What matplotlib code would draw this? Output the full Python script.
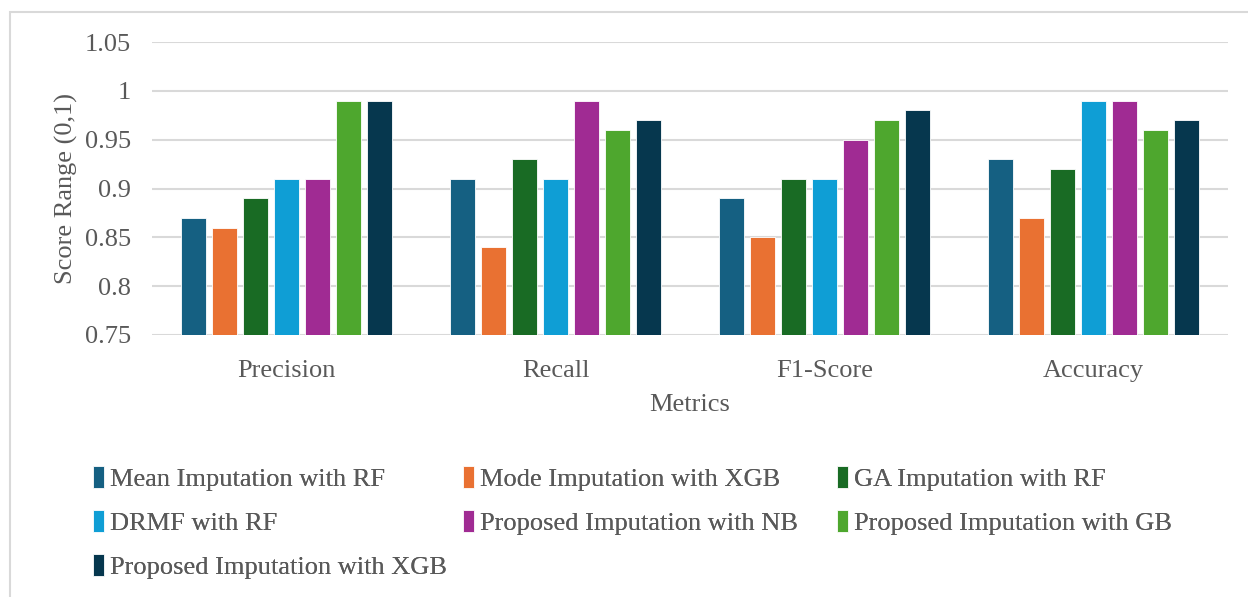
import numpy as np
import matplotlib.pyplot as plt
from matplotlib.patches import Rectangle

plt.rcParams['font.family'] = ['Liberation Serif', 'DejaVu Serif']

metrics = ['Precision', 'Recall', 'F1-Score', 'Accuracy']
methods = ['Mean Imputation with RF', 'Mode Imputation with XGB', 'GA Imputation with RF',
           'DRMF with RF', 'Proposed Imputation with NB', 'Proposed Imputation with GB',
           'Proposed Imputation with XGB']

mean_rf = [0.87, 0.91, 0.89, 0.93]
mode_xgb = [0.86, 0.84, 0.85, 0.87]
ga_rf = [0.89, 0.93, 0.91, 0.92]
drmf_rf = [0.91, 0.91, 0.91, 0.99]
prop_nb = [0.91, 0.99, 0.95, 0.99]
prop_gb = [0.99, 0.96, 0.97, 0.96]
prop_xgb = [0.99, 0.97, 0.98, 0.97]

series = [mean_rf, mode_xgb, ga_rf, drmf_rf, prop_nb, prop_gb, prop_xgb]
colors = ['#156082', '#e97132', '#196b24', '#0f9ed5', '#a02b93', '#4ea72e', '#06374e']

txt = '#595959'
fs = 19

fig = plt.figure(figsize=(12.48, 5.97), dpi=100)
# light frame around the chart
fig.patches.append(Rectangle((10/1248, -0.05), 1.2, 1 - 12/597 + 0.05, transform=fig.transFigure,
                             fill=False, edgecolor='#d9d9d9', lw=1.5))

ax = fig.add_axes([0.1218, 0.4389, 0.8622, 0.4907])

x = np.arange(len(metrics))
w = 0.093
step = 0.115
bars = []
for i, (vals, c) in enumerate(zip(series, colors)):
    b = ax.bar(x + (i - 3) * step, vals, w, color=c, edgecolor='white', lw=0.6,
               label=methods[i], zorder=3)
    bars.append(b)

ax.set_ylim(0.75, 1.05)
ax.set_xlim(-0.5, 3.5)
ax.set_yticks(np.arange(0.75, 1.051, 0.05))
ax.set_yticklabels(['0.75', '0.8', '0.85', '0.9', '0.95', '1', '1.05'])
ax.set_xticks(x)
ax.set_xticklabels(metrics)
ax.grid(axis='y', color='#d9d9d9', lw=1.5, zorder=0)
for s in ax.spines.values():
    s.set_visible(False)
ax.tick_params(length=0, labelsize=fs, colors=txt)
ax.tick_params(axis='x', pad=18)
ax.tick_params(axis='y', pad=15)

ax.set_xlabel('Metrics', fontsize=fs, color=txt, labelpad=9)
ax.set_ylabel('Score Range (0,1)', fontsize=fs, color=txt, labelpad=5)

# legend laid out row by row, one legend per column
cols = [[0, 3, 6], [1, 4], [2, 5]]
col_x = [93, 463, 837]
for idx, cx in zip(cols, col_x):
    leg = fig.legend([bars[i] for i in idx], [methods[i] for i in idx],
                     loc='upper left', bbox_to_anchor=(cx/1248, 1 - 466/597),
                     frameon=False, fontsize=fs, labelcolor=txt, handlelength=0.4,
                     handleheight=0.9, handletextpad=0.25, labelspacing=0.72,
                     borderpad=0, borderaxespad=0)
    fig.add_artist(leg)

plt.savefig('out.png', dpi=100)
